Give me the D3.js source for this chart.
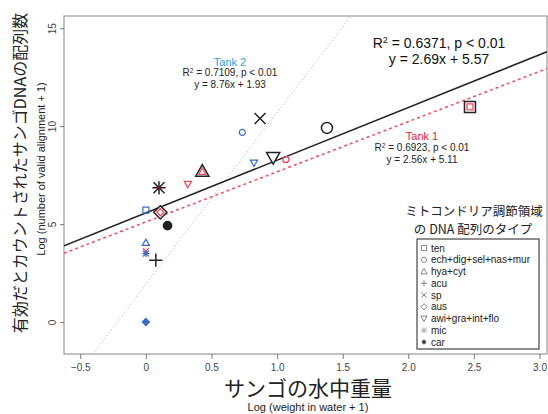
<!DOCTYPE html>
<html>
<head>
<meta charset="utf-8">
<script src="https://cdn.jsdelivr.net/npm/d3@7"></script>
<style>
  body { margin: 0; background: #fff; }
  text { font-family: "Liberation Sans", Arial, "Noto Sans CJK JP", sans-serif; }
  .jp { font-family: "Noto Sans CJK JP", sans-serif; }
</style>
</head>
<body>
<div id="chart"></div>
<script>
// data: [type, log weight, log count]
const allPoints = [
  ["ten", 2.47, 10.98], ["ech", 1.38, 9.91], ["hya", 0.43, 7.70],
  ["awi", 0.97, 8.40], ["sp", 0.87, 10.39], ["mic", 0.10, 6.85],
  ["aus", 0.11, 5.60], ["car", 0.165, 4.92], ["acu", 0.076, 3.16]
];
const tank1Points = [
  ["ten", 2.47, 10.98], ["ech", 1.067, 8.30], ["hya", 0.43, 7.68],
  ["awi", 0.32, 7.04], ["aus", 0.11, 5.60], ["sp", 0.0, 3.62]
];
const tank2Points = [
  ["ten", 0.0, 5.71], ["ech", 0.735, 9.68], ["hya", 0.0, 4.05],
  ["awi", 0.824, 8.13], ["mic", 0.0, 3.50], ["dia", 0.0, 0.0]
];
// regression lines: [slope, intercept]
const fitAll = [2.69, 5.57];
const fitTank1 = [2.56, 5.11];
const fitTank2 = [8.76, 1.93];

const xTicks = [-0.5, 0, 0.5, 1.0, 1.5, 2.0, 2.5, 3.0];
const yTicks = [0, 5, 10, 15];
const legendTypes = ["ten", "ech", "hya", "acu", "sp", "aus", "awi", "mic", "car"];
const legendLabels = ["ten", "ech+dig+sel+nas+mur", "hya+cyt", "acu", "sp", "aus",
  "awi+gra+int+flo", "mic", "car"];

const width = 548, height = 414;
const margin = { top: 16, right: 0, bottom: 60, left: 64 };

const red = "#ee4a5e", blue = "#3d6cc6";

const svg = d3.select("#chart").append("svg")
  .attr("width", width).attr("height", height);

const x = d3.scaleLinear().domain([-0.624, 3.057]).range([margin.left, width - 1]);
const y = d3.scaleLinear().domain([-1.63, 15.62]).range([height - margin.bottom, margin.top]);

// plot box
svg.append("rect")
  .attr("x", margin.left).attr("y", margin.top)
  .attr("width", width - 1 - margin.left).attr("height", height - margin.bottom - margin.top)
  .attr("fill", "none").attr("stroke", "#9a9a9a").attr("stroke-width", 1.2);

// axes
const xAxis = svg.append("g")
  .attr("transform", `translate(0,${height - margin.bottom})`)
  .call(d3.axisBottom(x).tickValues(xTicks).tickSize(5).tickPadding(5)
    .tickFormat(d => d === 0 ? "0" : d3.format(".1f")(d)));
xAxis.select(".domain").remove();
xAxis.selectAll("line").attr("stroke", "#777");
xAxis.selectAll("text").attr("font-size", 10).attr("fill", "#444");

const yAxis = svg.append("g")
  .attr("transform", `translate(${margin.left},0)`)
  .call(d3.axisLeft(y).tickValues(yTicks).tickSize(4).tickFormat(d3.format("d")));
yAxis.select(".domain").remove();
yAxis.selectAll("line").attr("stroke", "#777");
yAxis.selectAll("text")
  .attr("font-size", 10).attr("fill", "#444")
  .attr("text-anchor", "middle").attr("dy", 0)
  .attr("x", 0).attr("y", 0)
  .attr("transform", "translate(-8,0) rotate(-90)");

// regression lines, clipped to the box
svg.append("clipPath").attr("id", "clip").append("rect")
  .attr("x", margin.left).attr("y", margin.top)
  .attr("width", width - margin.left).attr("height", height - margin.bottom - margin.top);

const xd = x.domain();
function fitLine(f) {
  return d3.line()(xd.map(v => [x(v), y(f[0] * v + f[1])]));
}
const lines = svg.append("g").attr("clip-path", "url(#clip)");
lines.append("path").attr("d", fitLine(fitTank2))
  .attr("stroke", "#b4bfe6").attr("stroke-width", 1).attr("stroke-dasharray", "1.5,2").attr("fill", "none");
lines.append("path").attr("d", fitLine(fitTank1))
  .attr("stroke", red).attr("stroke-width", 1.5).attr("stroke-dasharray", "3,3").attr("fill", "none");
lines.append("path").attr("d", fitLine(fitAll))
  .attr("stroke", "#222").attr("stroke-width", 1.6).attr("fill", "none");

// point symbols, R style
function shape(type, r) {
  const t = r * 1.2;
  switch (type) {
    case "ten": return `M${-r},${-r}h${2 * r}v${2 * r}h${-2 * r}Z`;
    case "ech": return d3.arc()({ innerRadius: 0, outerRadius: r, startAngle: 0, endAngle: 2 * Math.PI });
    case "hya": return `M0,${-t}L${t},${t * 0.75}L${-t},${t * 0.75}Z`;
    case "awi": return `M0,${t}L${t},${-t * 0.75}L${-t},${-t * 0.75}Z`;
    case "acu": return `M${-t},0H${t}M0,${-t}V${t}`;
    case "sp": return `M${-r},${-r}L${r},${r}M${-r},${r}L${r},${-r}`;
    case "aus": case "dia": return `M0,${-t}L${t},0L0,${t}L${-t},0Z`;
    case "mic": return `M${-t},0H${t}M0,${-t}V${t}M${-r},${-r}L${r},${r}M${-r},${r}L${r},${-r}`;
    case "car": return d3.arc()({ innerRadius: 0, outerRadius: r * 0.75, startAngle: 0, endAngle: 2 * Math.PI });
  }
}
const filled = t => t === "car" || t === "dia";

function drawPoints(data, color, r, sw, fillColor) {
  return svg.append("g").selectAll("path")
    .data(data).join("path")
    .attr("transform", d => `translate(${x(d[1])},${y(d[2])})`)
    .attr("d", d => shape(d[0], r))
    .attr("fill", d => filled(d[0]) ? color : (fillColor || "none"))
    .attr("stroke", color).attr("stroke-width", sw);
}
drawPoints(allPoints, "#222", 5.5, 1.5, "#fff");
drawPoints(tank1Points, red, 3, 1.3);
drawPoints(tank2Points, blue, 3, 1.2);
// dark red centre of the large asterisk
svg.append("g").selectAll("circle")
  .data(allPoints.filter(d => d[0] === "mic")).join("circle")
  .attr("cx", d => x(d[1])).attr("cy", d => y(d[2])).attr("r", 1.8).attr("fill", "#8a1020");

// annotations
function label(xp, yp, lines, size, color) {
  const t = svg.append("text").attr("text-anchor", "middle").attr("font-size", size).attr("fill", color);
  lines.forEach((l, i) => {
    const ts = t.append("tspan").attr("x", xp).attr("y", yp + i * size * 1.15);
    if (l.startsWith("R2")) {
      ts.text("R");
      ts.append("tspan").attr("font-size", size * 0.65).attr("dy", -size * 0.35).text("2");
      ts.append("tspan").attr("dy", size * 0.35).text(l.slice(2));
    } else ts.text(l);
  });
  return t;
}
label(230, 66, ["Tank 2"], 11, "#22a2e0");
label(230, 76, ["R2 = 0.7109, p < 0.01", "y = 8.76x + 1.93"], 10, "#222");
label(439, 48, ["R2 = 0.6371, p < 0.01", "y = 2.69x + 5.57"], 14, "#111");
label(422, 140, ["Tank 1"], 11, "#e5213d");
label(422, 151, ["R2 = 0.6923, p < 0.01", "y = 2.56x + 5.11"], 10, "#222");

// axis titles
svg.append("text").attr("class", "jp")
  .attr("transform", `translate(26,173) rotate(-90)`)
  .attr("text-anchor", "middle").attr("font-size", 16).attr("fill", "#222")
  .text("有効だとカウントされたサンゴDNAの配列数");
svg.append("text")
  .attr("transform", `translate(45,169) rotate(-90)`)
  .attr("text-anchor", "middle").attr("font-size", 11).attr("fill", "#222")
  .text("Log (number of valid alignment + 1)");
svg.append("text").attr("class", "jp")
  .attr("x", 308).attr("y", 396)
  .attr("text-anchor", "middle").attr("font-size", 21).attr("fill", "#222")
  .text("サンゴの水中重量");
svg.append("text")
  .attr("x", 308).attr("y", 411)
  .attr("text-anchor", "middle").attr("font-size", 11).attr("fill", "#222")
  .text("Log (weight in water + 1)");

// legend
svg.append("text").attr("class", "jp")
  .attr("x", 474).attr("y", 216).attr("text-anchor", "middle")
  .attr("font-size", 12.5).attr("fill", "#222").text("ミトコンドリア調節領域");
svg.append("text").attr("class", "jp")
  .attr("x", 473).attr("y", 234).attr("text-anchor", "middle")
  .attr("font-size", 12.5).attr("fill", "#222").text("の DNA 配列のタイプ");
svg.append("rect").attr("x", 417).attr("y", 239).attr("width", 122).attr("height", 110)
  .attr("fill", "#fff").attr("stroke", "#444").attr("stroke-width", 1.2);
const lg = svg.append("g").selectAll("g")
  .data(legendTypes).join("g")
  .attr("transform", (d, i) => `translate(424,${248 + i * 11.75})`);
lg.append("path").attr("d", d => shape(d, 2.6))
  .attr("fill", d => filled(d) ? "#333" : "none")
  .attr("stroke", d => d === "mic" ? "#aaa" : "#777").attr("stroke-width", 0.9);
lg.append("text").attr("x", 7).attr("y", 3.5).attr("font-size", 10).attr("fill", "#222")
  .text((d, i) => legendLabels[i]);
</script>
</body>
</html>
